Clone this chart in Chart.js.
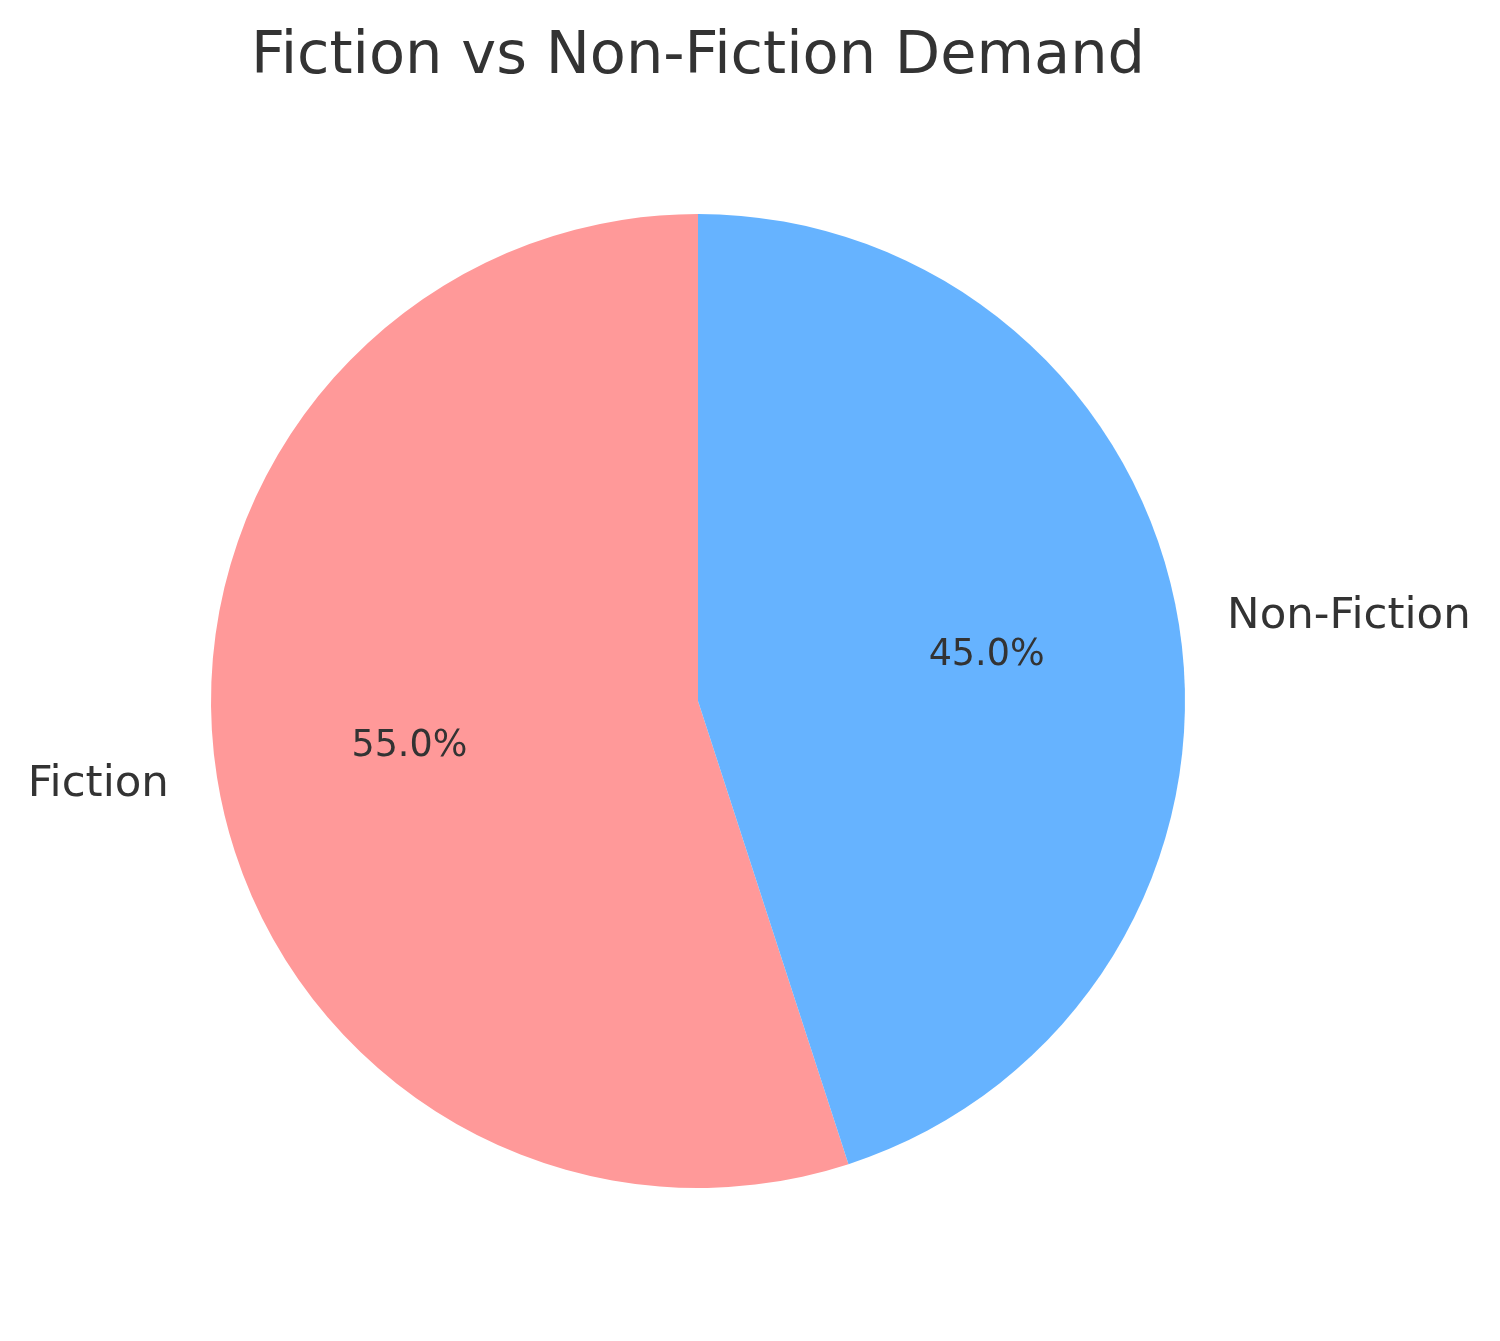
<!DOCTYPE html>
<html>
<head>
<meta charset="utf-8">
<title>Fiction vs Non-Fiction Demand</title>
<script src="https://cdn.jsdelivr.net/npm/chart.js@4/dist/chart.umd.min.js"></script>
<style>
  html, body { margin: 0; padding: 0; background: #ffffff; }
  #wrap { width: 1500px; height: 1341px; }
</style>
</head>
<body>
<div id="wrap"><canvas id="myChart" width="1500" height="1341"></canvas></div>
<script>
// pie data
const categories = ['Fiction', 'Non-Fiction'];
const shares = [55, 45];
const sliceColors = ['#ff9999', '#66b3ff'];
const chartTitle = 'Fiction vs Non-Fiction Demand';

const textColor = '#333333';
const fontFamily = '"DejaVu Sans", sans-serif';

// Draws the title plus the category names outside and the percentages inside
const pieText = {
  id: 'pieText',
  afterDatasetsDraw(chart) {
    const ctx = chart.ctx;
    const meta = chart.getDatasetMeta(0);
    const total = shares.reduce((s, v) => s + v, 0);
    ctx.save();
    ctx.fillStyle = textColor;

    // title
    ctx.font = '59px ' + fontFamily;
    ctx.textAlign = 'center';
    ctx.textBaseline = 'alphabetic';
    ctx.fillText(chartTitle, 698, 73);

    meta.data.forEach((arc, i) => {
      const p = arc.getProps(['x', 'y', 'startAngle', 'endAngle', 'outerRadius'], true);
      const mid = (p.startAngle + p.endAngle) / 2;
      const cx = Math.cos(mid), cy = Math.sin(mid);

      // category label at 1.1 radius
      ctx.font = '43.5px ' + fontFamily;
      ctx.textBaseline = 'middle';
      ctx.textAlign = cx >= 0 ? 'left' : 'right';
      ctx.fillText(categories[i], p.x + cx * p.outerRadius * 1.1, p.y + cy * p.outerRadius * 1.1);

      // percentage at 0.6 radius
      ctx.font = '36.5px ' + fontFamily;
      ctx.textAlign = 'center';
      const pct = (shares[i] / total * 100).toFixed(1) + '%';
      ctx.fillText(pct, p.x + cx * p.outerRadius * 0.6, p.y + cy * p.outerRadius * 0.6);
    });
    ctx.restore();
  }
};

new Chart(document.getElementById('myChart'), {
  type: 'pie',
  data: {
    labels: categories,
    datasets: [{
      data: shares,
      backgroundColor: sliceColors,
      borderWidth: 0,
      hoverOffset: 0
    }]
  },
  options: {
    responsive: false,
    animation: false,
    // Fiction runs from the bottom-right round to the top, like the original
    rotation: 162,
    layout: {
      padding: { left: 211, right: 315, top: 214, bottom: 153 }
    },
    plugins: {
      legend: { display: false },
      title: { display: false },
      tooltip: { enabled: false }
    }
  },
  plugins: [pieText]
});
</script>
</body>
</html>
